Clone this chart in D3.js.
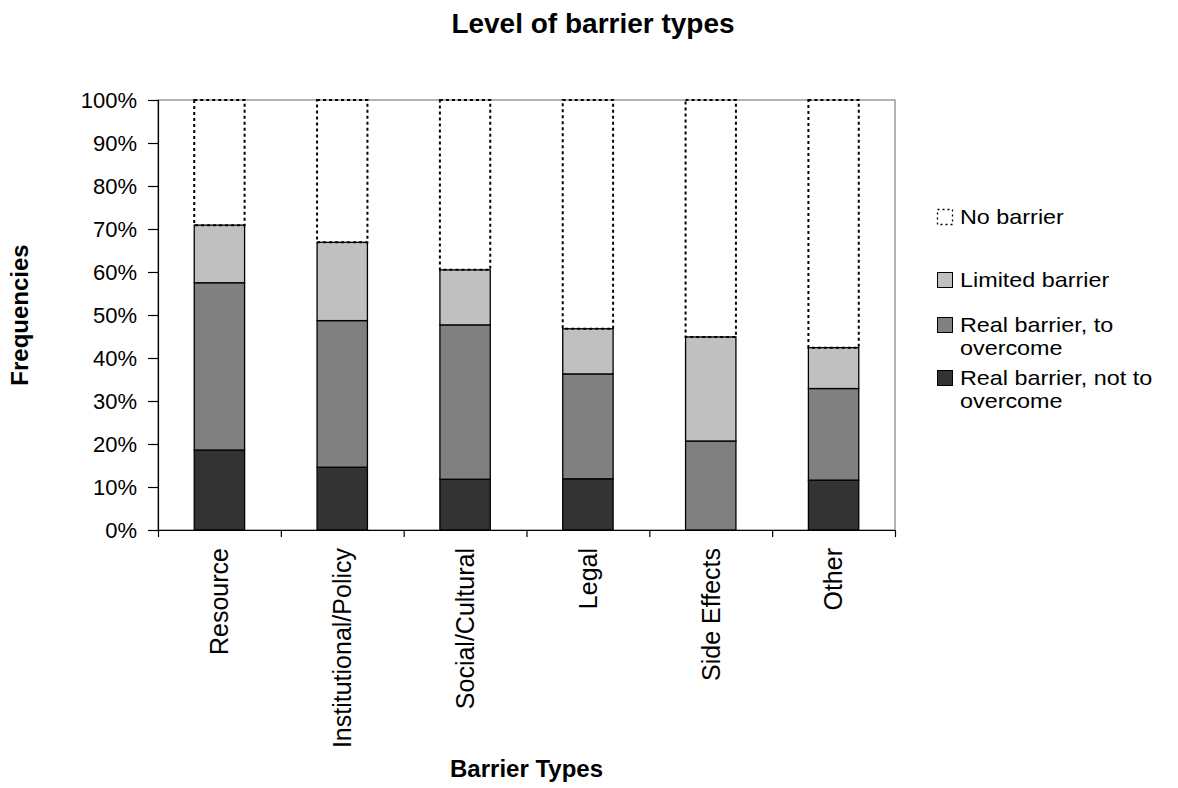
<!DOCTYPE html>
<html>
<head>
<meta charset="utf-8">
<script src="https://cdn.jsdelivr.net/npm/d3@7"></script>
<style>
  body { margin: 0; background: #fff; }
  svg text { font-family: "Liberation Sans", Arial, sans-serif; fill: #000; }
</style>
</head>
<body>
<div id="chart"></div>
<script>
// categories and stacked shares (fractions), bottom to top
const categories = ["Resource", "Institutional/Policy", "Social/Cultural", "Legal", "Side Effects", "Other"];
const notToOvercome = [0.186, 0.146, 0.118, 0.119, 0.000, 0.116];
const toOvercome    = [0.389, 0.341, 0.359, 0.244, 0.207, 0.213];
const limited       = [0.134, 0.182, 0.128, 0.105, 0.242, 0.095];
const noBarrier     = [0.291, 0.331, 0.395, 0.532, 0.551, 0.576];

const seriesNames = ["Real barrier, not to overcome", "Real barrier, to overcome", "Limited barrier", "No barrier"];
const seriesKeys = ["notTo", "to", "limited", "none"];
const seriesColors = ["#333333", "#808080", "#c0c0c0", "#ffffff"];
const yTicks = [0, 0.1, 0.2, 0.3, 0.4, 0.5, 0.6, 0.7, 0.8, 0.9, 1.0];

const width = 1178, height = 788;
const plot = { left: 158, right: 895, top: 100, bottom: 530 };

const rows = categories.map((c, i) => ({
  category: c,
  notTo: notToOvercome[i],
  to: toOvercome[i],
  limited: limited[i],
  none: noBarrier[i]
}));

const stacked = d3.stack().keys(seriesKeys)(rows);

const svg = d3.select("#chart").append("svg")
  .attr("width", width)
  .attr("height", height);

const x = d3.scaleBand()
  .domain(categories)
  .range([plot.left, plot.right])
  .paddingInner(0.59)
  .paddingOuter(0.295);

const xEdges = d3.scaleLinear()
  .domain([0, categories.length])
  .range([plot.left, plot.right]);

const y = d3.scaleLinear()
  .domain([0, 1])
  .range([plot.bottom, plot.top]);

// plot frame (top and right edges in gray)
svg.append("rect")
  .attr("x", plot.left)
  .attr("y", plot.top)
  .attr("width", plot.right - plot.left)
  .attr("height", plot.bottom - plot.top)
  .attr("fill", "none")
  .attr("stroke", "#9a9a9a")
  .attr("stroke-width", 1.5);

// bars
const layers = svg.append("g").selectAll("g")
  .data(stacked)
  .join("g");

layers.each(function(layer, li) {
  const dotted = li === 3;
  d3.select(this).selectAll("rect")
    .data(layer)
    .join("rect")
    .attr("x", d => x(d.data.category))
    .attr("y", d => y(d[1]))
    .attr("width", x.bandwidth())
    .attr("height", d => y(d[0]) - y(d[1]))
    .attr("fill", dotted ? "none" : seriesColors[li])
    .attr("stroke", "#000")
    .attr("stroke-width", dotted ? 2 : 1.3)
    .attr("stroke-dasharray", dotted ? "3,3" : null);
});

// y axis
const yAxis = svg.append("g")
  .attr("transform", `translate(${plot.left},0)`)
  .call(d3.axisLeft(y).tickValues(yTicks).tickFormat(d3.format(".0%")).tickSize(10).tickPadding(11));
yAxis.select(".domain").attr("stroke", "#000").attr("stroke-width", 1.2);
yAxis.selectAll(".tick line").attr("stroke", "#000").attr("stroke-width", 1.2);
yAxis.selectAll("text")
  .style("font-size", "22px")
  .style("font-family", "'Liberation Sans', Arial, sans-serif");

// x axis: ticks at category boundaries
const xAxis = svg.append("g")
  .attr("transform", `translate(0,${plot.bottom})`)
  .call(d3.axisBottom(xEdges).tickValues(d3.range(categories.length + 1)).tickFormat("").tickSize(7).tickSizeOuter(0));
xAxis.select(".domain").attr("stroke", "#000").attr("stroke-width", 1.2);
xAxis.selectAll(".tick line").attr("stroke", "#000").attr("stroke-width", 1.2);

// category labels, rotated
svg.append("g").selectAll("text")
  .data(categories)
  .join("text")
  .attr("transform", d => `translate(${x(d) + x.bandwidth() / 2},548) rotate(-90)`)
  .attr("text-anchor", "end")
  .attr("dy", "0.35em")
  .style("font-size", "25px")
  .text(d => d);

// title and axis titles
svg.append("text")
  .attr("x", 593)
  .attr("y", 33)
  .attr("text-anchor", "middle")
  .style("font-size", "28px")
  .style("font-weight", "bold")
  .text("Level of barrier types");

svg.append("text")
  .attr("x", (plot.left + plot.right) / 2)
  .attr("y", 777)
  .attr("text-anchor", "middle")
  .style("font-size", "24px")
  .style("font-weight", "bold")
  .text("Barrier Types");

svg.append("text")
  .attr("transform", `translate(28,${(plot.top + plot.bottom) / 2}) rotate(-90)`)
  .attr("text-anchor", "middle")
  .style("font-size", "24px")
  .style("font-weight", "bold")
  .text("Frequencies");

// legend (top entry = last series); text is slightly widened like the original
const legendItems = [
  { idx: 3, lines: ["No barrier"], y: 224 },
  { idx: 2, lines: ["Limited barrier"], y: 287 },
  { idx: 1, lines: ["Real barrier, to", "overcome"], y: 332 },
  { idx: 0, lines: ["Real barrier, not to", "overcome"], y: 385 }
];

const legend = svg.append("g");
legendItems.forEach(item => {
  const dotted = item.idx === 3;
  legend.append("rect")
    .attr("x", 937.5)
    .attr("y", item.y - 14.5)
    .attr("width", 15)
    .attr("height", 15)
    .attr("fill", dotted ? "none" : seriesColors[item.idx])
    .attr("stroke", "#000")
    .attr("stroke-width", dotted ? 1.3 : 1)
    .attr("stroke-dasharray", dotted ? "2,3" : null);
  const t = legend.append("text")
    .attr("transform", `translate(960,${item.y}) scale(1.14,1)`)
    .style("font-size", "20.5px");
  item.lines.forEach((line, k) => {
    t.append("tspan")
      .attr("x", 0)
      .attr("dy", k === 0 ? 0 : 23)
      .text(line);
  });
});
</script>
</body>
</html>
